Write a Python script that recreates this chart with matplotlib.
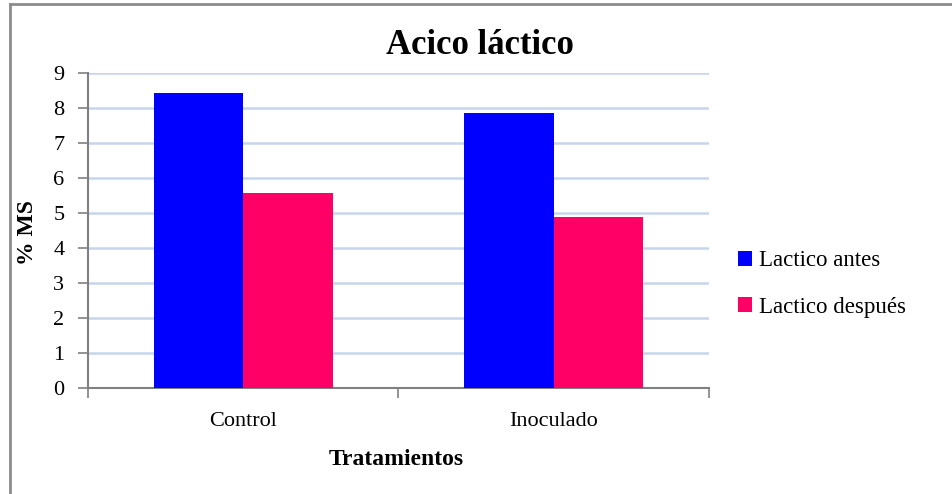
import matplotlib.pyplot as plt
import numpy as np
from matplotlib.lines import Line2D

categories = ["Control", "Inoculado"]
series_names = ["Lactico antes", "Lactico después"]
antes = [8.43, 7.86]
despues = [5.57, 4.89]
yticks = list(range(0, 10))

colors = ["#0000FF", "#FF0066"]
BAR_WIDTH = 0.288

plt.rcParams["font.family"] = ["Liberation Serif", "DejaVu Serif"]

fig = plt.figure(figsize=(9.53, 4.94), dpi=100)
ax = fig.add_axes([88/953, 1-388/494, (709-88)/953, (388-73)/494])

x = np.arange(len(categories))
ax.bar(x - BAR_WIDTH/2, antes, BAR_WIDTH, color=colors[0], label=series_names[0], zorder=3)
ax.bar(x + BAR_WIDTH/2, despues, BAR_WIDTH, color=colors[1], label=series_names[1], zorder=3)

ax.set_xlim(-0.5, len(categories) - 0.5)
ax.set_ylim(0, 9)
ax.set_yticks(yticks)
ax.tick_params(axis="y", labelsize=16, length=7, width=1.2, color="#808080", pad=10)

# category boundary ticks, labels in the middle
ax.set_xticks(np.arange(len(categories) + 1) - 0.5)
ax.set_xticklabels([])
ax.set_xticks(x, minor=True)
ax.set_xticklabels(categories, minor=True, fontsize=16)
ax.tick_params(axis="x", which="major", length=7, width=1.2, color="#808080")
ax.tick_params(axis="x", which="minor", length=0, pad=17)

ax.grid(axis="y", color="#C6D5EC", linewidth=1.8, zorder=0)
for s in ["top", "right"]:
    ax.spines[s].set_visible(False)
for s in ["left", "bottom"]:
    ax.spines[s].set_color("#808080")
    ax.spines[s].set_linewidth(1.5)

fig.text(480/953, 1-45/494, "Acico láctico", ha="center", va="center",
         fontsize=25, fontweight="bold")
fig.text(28/953, 1-233/494, "% MS", ha="center", va="center", rotation=90,
         fontsize=17, fontweight="bold")
fig.text(396/953, 1-459/494, "Tratamientos", ha="center", va="center",
         fontsize=17, fontweight="bold")

fig.legend(loc="center left", bbox_to_anchor=(729/953, 1-284/494), frameon=False,
           fontsize=16.5, handlelength=0.6, handleheight=0.6, handletextpad=0.3,
           labelspacing=1.1, borderaxespad=0)

# outer chart border (top and left visible)
fig.add_artist(Line2D([10/953, 1], [1-4/494, 1-4/494], color="#8C8C8C", linewidth=2))
fig.add_artist(Line2D([10/953, 10/953], [0, 1-4/494], color="#8C8C8C", linewidth=2))

fig.savefig("out.png", dpi=100)
